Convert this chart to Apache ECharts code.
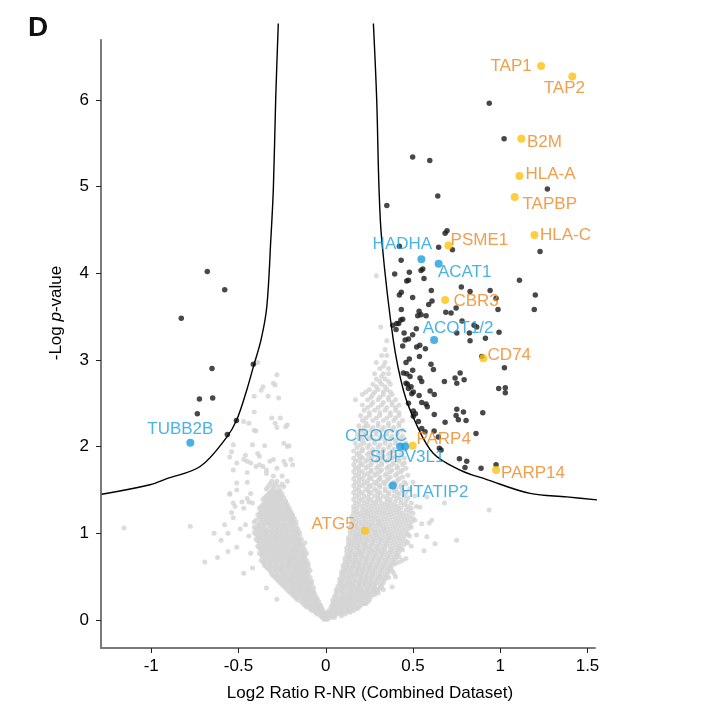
<!DOCTYPE html>
<html>
<head>
<meta charset="utf-8">
<script src="https://cdn.jsdelivr.net/npm/echarts@6/dist/echarts.min.js"></script>
<style>html,body{margin:0;padding:0;background:#fff}#c{width:702px;height:727px}</style>
</head>
<body>
<div id="c"></div>
<script>
// ---------------- DATA ----------------
const xTicks = [-1, -0.5, 0, 0.5, 1, 1.5];
const yTicks = [0, 1, 2, 3, 4, 5, 6];

// threshold curve
const curveLeftX  = [-1.284, -1.007, -0.911, -0.720, -0.567, -0.510, -0.453, -0.415, -0.371, -0.338, -0.315, -0.300, -0.287, -0.272];
const curveLeftY  = [1.45, 1.56, 1.63, 1.77, 2.11, 2.31, 2.65, 2.92, 3.23, 3.61, 4.38, 4.99, 6.00, 6.88];
const curveRightX = [0.273, 0.292, 0.305, 0.321, 0.387, 0.445, 0.512, 0.617, 0.770, 0.923, 1.171, 1.381, 1.582];
const curveRightY = [6.88, 6.00, 4.99, 4.38, 3.23, 2.65, 2.29, 1.92, 1.73, 1.62, 1.46, 1.42, 1.38];

// non-significant proteins, left arm, rows: [y, [x...]]
const greyLeftRows = [
 [0.01,[-0.01,0.00,0.01]],
 [0.03,[-0.02,0.00]],
 [0.05,[-0.03,-0.02,0.00,0.02]],
 [0.07,[-0.05,-0.03,-0.01]],
 [0.09,[-0.06,-0.04,-0.02,-0.01,0.01]],
 [0.11,[-0.08,-0.06,-0.04,-0.02]],
 [0.13,[-0.09,-0.07,-0.05,-0.03,-0.02]],
 [0.15,[-0.11,-0.09,-0.07,-0.05,-0.03]],
 [0.17,[-0.12,-0.10,-0.08,-0.06,-0.04,-0.03]],
 [0.19,[-0.13,-0.11,-0.09,-0.07,-0.05]],
 [0.21,[-0.14,-0.12,-0.10,-0.08,-0.06,-0.04]],
 [0.23,[-0.16,-0.13,-0.11,-0.09,-0.07,-0.05]],
 [0.25,[-0.17,-0.15,-0.12,-0.10,-0.08,-0.06,-0.05]],
 [0.27,[-0.18,-0.16,-0.13,-0.11,-0.09,-0.07]],
 [0.29,[-0.19,-0.17,-0.14,-0.12,-0.10,-0.08,-0.06]],
 [0.31,[-0.20,-0.18,-0.15,-0.13,-0.11,-0.09,-0.07]],
 [0.33,[-0.21,-0.18,-0.16,-0.14,-0.11,-0.09,-0.07]],
 [0.35,[-0.22,-0.19,-0.17,-0.15,-0.12,-0.10,-0.08]],
 [0.37,[-0.23,-0.20,-0.18,-0.15,-0.13,-0.11,-0.09,-0.07]],
 [0.39,[-0.24,-0.21,-0.19,-0.16,-0.14,-0.12,-0.10]],
 [0.41,[-0.25,-0.22,-0.19,-0.17,-0.15,-0.12,-0.10,-0.08]],
 [0.43,[-0.26,-0.23,-0.20,-0.18,-0.16,-0.13,-0.11,-0.09]],
 [0.45,[-0.27,-0.24,-0.21,-0.19,-0.16,-0.14,-0.12,-0.10,-0.08]],
 [0.47,[-0.28,-0.25,-0.22,-0.20,-0.17,-0.15,-0.13,-0.11]],
 [0.49,[-0.29,-0.26,-0.23,-0.20,-0.18,-0.15,-0.13,-0.11,-0.09]],
 [0.51,[-0.30,-0.27,-0.24,-0.21,-0.19,-0.16,-0.14,-0.12]],
 [0.53,[-0.31,-0.28,-0.25,-0.22,-0.19,-0.17,-0.15,-0.12,-0.10]],
 [0.55,[-0.31,-0.28,-0.25,-0.23,-0.20,-0.18,-0.16,-0.13,-0.11]],
 [0.57,[-0.32,-0.29,-0.26,-0.24,-0.21,-0.18,-0.16,-0.14,-0.11,-0.09]],
 [0.59,[-0.33,-0.30,-0.27,-0.25,-0.22,-0.19,-0.17,-0.15,-0.12]],
 [0.61,[-0.34,-0.31,-0.28,-0.25,-0.22,-0.20,-0.17,-0.15,-0.13,-0.10]],
 [0.63,[-0.35,-0.32,-0.29,-0.26,-0.23,-0.21,-0.18,-0.16,-0.14,-0.11]],
 [0.65,[-0.35,-0.32,-0.29,-0.26,-0.24,-0.21,-0.19,-0.16,-0.14,-0.12,-0.10]],
 [0.67,[-0.36,-0.33,-0.30,-0.27,-0.25,-0.22,-0.20,-0.17,-0.15,-0.12]],
 [0.69,[-0.37,-0.34,-0.31,-0.28,-0.25,-0.22,-0.20,-0.18,-0.15,-0.13,-0.11]],
 [0.71,[-0.35,-0.32,-0.29,-0.26,-0.23,-0.21,-0.18,-0.16,-0.13]],
 [0.73,[-0.36,-0.33,-0.30,-0.27,-0.24,-0.21,-0.19,-0.17,-0.14,-0.12]],
 [0.75,[-0.37,-0.34,-0.31,-0.28,-0.25,-0.22,-0.19,-0.17,-0.14,-0.12]],
 [0.77,[-0.38,-0.35,-0.32,-0.29,-0.26,-0.23,-0.20,-0.18,-0.15,-0.13,-0.11]],
 [0.79,[-0.36,-0.33,-0.30,-0.27,-0.24,-0.21,-0.19,-0.16,-0.13]],
 [0.81,[-0.37,-0.34,-0.31,-0.28,-0.25,-0.22,-0.19,-0.17,-0.14,-0.12]],
 [0.83,[-0.38,-0.35,-0.32,-0.29,-0.26,-0.23,-0.20,-0.17,-0.15]],
 [0.85,[-0.39,-0.36,-0.33,-0.30,-0.27,-0.24,-0.21,-0.18,-0.16,-0.13]],
 [0.87,[-0.37,-0.34,-0.31,-0.28,-0.25,-0.22,-0.19,-0.16,-0.14]],
 [0.89,[-0.38,-0.35,-0.32,-0.29,-0.26,-0.23,-0.20,-0.17,-0.15,-0.12]],
 [0.91,[-0.39,-0.36,-0.33,-0.30,-0.27,-0.24,-0.21,-0.18,-0.15]],
 [0.93,[-0.40,-0.37,-0.34,-0.31,-0.28,-0.25,-0.22,-0.19,-0.16,-0.14]],
 [0.95,[-0.38,-0.35,-0.32,-0.29,-0.26,-0.23,-0.20,-0.17]],
 [0.97,[-0.39,-0.36,-0.33,-0.30,-0.27,-0.24,-0.21,-0.18,-0.15]],
 [0.99,[-0.40,-0.37,-0.34,-0.31,-0.28,-0.25,-0.22,-0.19,-0.16]],
 [1.01,[-0.41,-0.38,-0.35,-0.32,-0.29,-0.26,-0.23,-0.20,-0.17,-0.15]],
 [1.03,[-0.39,-0.36,-0.34,-0.31,-0.28,-0.25,-0.22,-0.19,-0.17]],
 [1.05,[-0.40,-0.37,-0.33,-0.30,-0.27,-0.24,-0.21,-0.18,-0.16]],
 [1.07,[-0.41,-0.38,-0.35,-0.31,-0.28,-0.25,-0.22,-0.19]],
 [1.09,[-0.39,-0.36,-0.32,-0.29,-0.26,-0.23,-0.20,-0.17]],
 [1.11,[-0.38,-0.35,-0.33,-0.30,-0.27,-0.24,-0.21,-0.18]],
 [1.13,[-0.41,-0.37,-0.34,-0.31,-0.28,-0.25,-0.22,-0.19,-0.17]],
 [1.15,[-0.40,-0.36,-0.33,-0.30,-0.27,-0.24,-0.21,-0.19]],
 [1.17,[-0.38,-0.35,-0.32,-0.29,-0.26,-0.23,-0.20,-0.18]],
 [1.19,[-0.37,-0.34,-0.31,-0.28,-0.25,-0.22,-0.19]],
 [1.21,[-0.39,-0.36,-0.33,-0.30,-0.27,-0.24,-0.21,-0.19]],
 [1.23,[-0.38,-0.35,-0.32,-0.29,-0.26,-0.23,-0.20]],
 [1.25,[-0.37,-0.34,-0.31,-0.28,-0.25,-0.22,-0.20]],
 [1.27,[-0.36,-0.33,-0.30,-0.27,-0.24,-0.21]],
 [1.29,[-0.38,-0.35,-0.32,-0.29,-0.26,-0.23,-0.21]],
 [1.31,[-0.37,-0.34,-0.31,-0.28,-0.25,-0.22]],
 [1.33,[-0.36,-0.33,-0.30,-0.27,-0.24,-0.22]],
 [1.35,[-0.35,-0.32,-0.29,-0.26,-0.23]],
 [1.37,[-0.34,-0.31,-0.28,-0.25,-0.23]],
 [1.39,[-0.36,-0.33,-0.30,-0.27]],
 [1.41,[-0.35,-0.32,-0.29,-0.26,-0.24]],
 [1.43,[-0.34,-0.31,-0.28,-0.26]],
 [1.45,[-0.33,-0.30,-0.27,-0.25]],
 [1.47,[-0.32,-0.29,-0.27]],
 [1.49,[-0.31,-0.28,-0.26]],
 [1.51,[-0.34,-0.30]],
 [1.54,[-0.33,-0.30,-0.27,-0.24]],
 [1.57,[-0.32,-0.29,-0.25]],
 [1.60,[-0.31,-0.28,-0.22]],
 [1.66,[-0.30,-0.25]]
];

// non-significant proteins, right arm, rows: [y, [x...]]
const greyRightRows = [
 [0.03,[0.01,0.03,0.05]],
 [0.05,[0.02,0.05,0.09]],
 [0.07,[0.02,0.04,0.06,0.08,0.11]],
 [0.09,[0.03,0.06,0.09,0.12,0.14]],
 [0.11,[0.02,0.05,0.07,0.10,0.13,0.16]],
 [0.13,[0.04,0.06,0.09,0.12,0.15,0.18]],
 [0.15,[0.03,0.05,0.08,0.11,0.14,0.17,0.19]],
 [0.17,[0.04,0.07,0.10,0.13,0.16,0.20]],
 [0.19,[0.04,0.06,0.09,0.12,0.15,0.18,0.21,0.23]],
 [0.21,[0.05,0.08,0.11,0.14,0.17,0.20,0.24]],
 [0.23,[0.04,0.07,0.10,0.13,0.16,0.19,0.22,0.25]],
 [0.25,[0.06,0.09,0.12,0.15,0.18,0.21,0.24]],
 [0.27,[0.05,0.08,0.11,0.14,0.17,0.20,0.23,0.26]],
 [0.29,[0.06,0.10,0.13,0.16,0.19,0.22,0.25,0.28]],
 [0.31,[0.06,0.09,0.12,0.15,0.18,0.21,0.24,0.27,0.30]],
 [0.33,[0.07,0.10,0.14,0.17,0.20,0.23,0.26,0.29]],
 [0.35,[0.06,0.09,0.12,0.15,0.18,0.21,0.24,0.27,0.30]],
 [0.37,[0.08,0.11,0.14,0.17,0.20,0.24,0.27,0.31]],
 [0.39,[0.07,0.10,0.13,0.16,0.19,0.22,0.25,0.28,0.32]],
 [0.41,[0.09,0.12,0.15,0.19,0.22,0.25,0.28,0.31]],
 [0.43,[0.08,0.11,0.14,0.17,0.20,0.23,0.26,0.29,0.33]],
 [0.45,[0.09,0.13,0.16,0.19,0.22,0.25,0.28,0.32]],
 [0.47,[0.08,0.11,0.14,0.17,0.20,0.23,0.26,0.30,0.34]],
 [0.49,[0.10,0.13,0.16,0.20,0.23,0.26,0.29,0.33,0.36]],
 [0.51,[0.09,0.12,0.15,0.18,0.21,0.24,0.27,0.31,0.35]],
 [0.53,[0.10,0.14,0.17,0.20,0.23,0.27,0.30,0.34]],
 [0.55,[0.09,0.12,0.15,0.18,0.21,0.25,0.28,0.32,0.36]],
 [0.57,[0.11,0.14,0.18,0.21,0.24,0.27,0.31,0.35,0.38]],
 [0.59,[0.10,0.13,0.16,0.19,0.22,0.25,0.29,0.33,0.37]],
 [0.61,[0.12,0.15,0.18,0.21,0.25,0.28,0.32,0.36]],
 [0.63,[0.10,0.13,0.16,0.19,0.23,0.26,0.30,0.34,0.38]],
 [0.65,[0.12,0.16,0.19,0.22,0.25,0.29,0.33,0.37,0.40]],
 [0.67,[0.11,0.14,0.17,0.20,0.23,0.27,0.31,0.35,0.39]],
 [0.69,[0.13,0.16,0.19,0.23,0.26,0.30,0.34,0.38]],
 [0.71,[0.11,0.14,0.17,0.21,0.24,0.28,0.32,0.36,0.40]],
 [0.73,[0.13,0.17,0.20,0.23,0.27,0.31,0.35,0.39,0.42]],
 [0.75,[0.12,0.15,0.18,0.21,0.25,0.29,0.33,0.37,0.41]],
 [0.77,[0.14,0.17,0.20,0.24,0.28,0.32,0.36,0.40]],
 [0.79,[0.12,0.15,0.19,0.22,0.26,0.30,0.34,0.38,0.42]],
 [0.81,[0.14,0.18,0.21,0.25,0.28,0.32,0.37,0.41,0.44]],
 [0.83,[0.12,0.16,0.19,0.23,0.26,0.30,0.34,0.39,0.43]],
 [0.85,[0.14,0.18,0.22,0.25,0.29,0.33,0.37,0.42]],
 [0.87,[0.13,0.16,0.20,0.23,0.27,0.31,0.35,0.40,0.45]],
 [0.89,[0.15,0.18,0.22,0.26,0.30,0.34,0.38,0.43,0.47]],
 [0.91,[0.13,0.17,0.20,0.24,0.28,0.32,0.36,0.41,0.46]],
 [0.93,[0.15,0.19,0.23,0.27,0.31,0.35,0.39,0.44]],
 [0.95,[0.13,0.17,0.21,0.25,0.29,0.33,0.37,0.42]],
 [0.97,[0.16,0.19,0.23,0.27,0.31,0.36,0.40,0.45,0.48]],
 [0.99,[0.14,0.18,0.21,0.25,0.29,0.34,0.38,0.43,0.47]],
 [1.01,[0.16,0.20,0.24,0.28,0.32,0.36,0.41,0.46]],
 [1.03,[0.14,0.18,0.22,0.26,0.30,0.34,0.39,0.44]],
 [1.05,[0.16,0.20,0.24,0.28,0.33,0.37,0.42,0.47]],
 [1.07,[0.14,0.18,0.22,0.26,0.31,0.35,0.40,0.45,0.49]],
 [1.09,[0.17,0.21,0.25,0.29,0.33,0.38,0.43,0.48]],
 [1.11,[0.15,0.19,0.23,0.27,0.31,0.36,0.41,0.46]],
 [1.13,[0.17,0.21,0.25,0.30,0.34,0.39,0.44,0.49]],
 [1.15,[0.15,0.19,0.23,0.28,0.32,0.37,0.42,0.47,0.51]],
 [1.17,[0.17,0.22,0.26,0.30,0.35,0.40,0.45,0.50]],
 [1.19,[0.15,0.20,0.24,0.28,0.33,0.38,0.43,0.48]],
 [1.21,[0.18,0.22,0.26,0.31,0.36,0.41,0.46]],
 [1.23,[0.16,0.20,0.24,0.29,0.34,0.39,0.44,0.50]],
 [1.25,[0.18,0.23,0.27,0.32,0.37,0.42,0.48]],
 [1.27,[0.16,0.21,0.25,0.30,0.35,0.40,0.46]],
 [1.29,[0.18,0.23,0.28,0.33,0.38,0.43,0.49]],
 [1.31,[0.16,0.21,0.26,0.31,0.36,0.41,0.47,0.52]],
 [1.33,[0.19,0.24,0.29,0.34,0.39,0.45]],
 [1.35,[0.17,0.22,0.27,0.32,0.37,0.43,0.49]],
 [1.37,[0.19,0.24,0.29,0.35,0.40,0.46]],
 [1.39,[0.16,0.21,0.26,0.31,0.37,0.43]],
 [1.41,[0.19,0.24,0.30,0.35,0.41,0.47]],
 [1.43,[0.17,0.22,0.28,0.33,0.39,0.45,0.51]],
 [1.45,[0.19,0.25,0.30,0.36,0.42]],
 [1.47,[0.16,0.21,0.26,0.31,0.36,0.41,0.46]],
 [1.49,[0.19,0.24,0.29,0.34,0.39,0.44]],
 [1.51,[0.17,0.23,0.28,0.34,0.40,0.48]],
 [1.53,[0.19,0.25,0.31,0.37,0.43]],
 [1.55,[0.16,0.21,0.26,0.31,0.37,0.43]],
 [1.57,[0.19,0.24,0.29,0.34,0.40,0.46]],
 [1.59,[0.17,0.22,0.28,0.33,0.39,0.45,0.50]],
 [1.61,[0.19,0.24,0.30,0.35,0.41]],
 [1.63,[0.16,0.21,0.26,0.31,0.36,0.42]],
 [1.65,[0.19,0.25,0.31,0.37,0.44]],
 [1.67,[0.17,0.22,0.28,0.34,0.40,0.47]],
 [1.69,[0.19,0.24,0.29,0.35,0.41]],
 [1.71,[0.16,0.21,0.26,0.31,0.37,0.43]],
 [1.73,[0.19,0.26,0.32,0.38,0.44]],
 [1.75,[0.17,0.23,0.29,0.35,0.41,0.46]],
 [1.77,[0.19,0.24,0.30,0.36,0.41]],
 [1.79,[0.16,0.21,0.26,0.32,0.38,0.44]],
 [1.81,[0.20,0.26,0.32,0.39,0.45]],
 [1.83,[0.17,0.23,0.29,0.35,0.42]],
 [1.85,[0.19,0.24,0.30,0.36,0.42]],
 [1.87,[0.16,0.21,0.26,0.32,0.38,0.45]],
 [1.89,[0.20,0.27,0.33,0.40]],
 [1.91,[0.18,0.24,0.30,0.36,0.43]],
 [1.93,[0.19,0.25,0.31,0.37]],
 [1.95,[0.16,0.21,0.27,0.33,0.39]],
 [1.97,[0.21,0.27,0.33,0.39,0.45]],
 [1.99,[0.18,0.24,0.30,0.36]],
 [2.02,[0.20,0.25,0.31,0.37,0.43]],
 [2.04,[0.17,0.22,0.28,0.34,0.40,0.46]],
 [2.07,[0.21,0.28,0.34,0.40]],
 [2.09,[0.19,0.25,0.31,0.37,0.43]],
 [2.12,[0.21,0.26,0.32,0.38,0.44]],
 [2.14,[0.18,0.23,0.29,0.35,0.41]],
 [2.17,[0.22,0.29,0.35,0.41]],
 [2.19,[0.20,0.26,0.32,0.38,0.44]],
 [2.22,[0.22,0.27,0.33,0.39]],
 [2.24,[0.19,0.24,0.30,0.36,0.42]],
 [2.27,[0.23,0.30,0.36,0.42]],
 [2.30,[0.21,0.27,0.33,0.39,0.44]],
 [2.33,[0.23,0.29,0.35,0.40]],
 [2.36,[0.20,0.25,0.31,0.37,0.42]],
 [2.39,[0.25,0.31,0.37,0.42]],
 [2.42,[0.22,0.28,0.34,0.40]],
 [2.45,[0.24,0.30,0.35,0.40]],
 [2.48,[0.21,0.26,0.32,0.38,0.42]],
 [2.51,[0.27,0.33,0.38]],
 [2.54,[0.17,0.24,0.30,0.36,0.40]],
 [2.57,[0.26,0.31,0.36]],
 [2.60,[0.21,0.27,0.33,0.38]],
 [2.63,[0.23,0.28,0.33,0.37]],
 [2.66,[0.25,0.30,0.35]],
 [2.69,[0.29,0.34]],
 [2.72,[0.27,0.32,0.37]],
 [2.75,[0.31,0.36]],
 [2.78,[0.29,0.34]],
 [2.81,[0.32]],
 [2.84,[0.28,0.33,0.36]],
 [2.90,[0.31,0.36]],
 [2.93,[0.33]],
 [2.97,[0.29,0.34]],
 [3.05,[0.32,0.35]],
 [3.12,[0.34]],
 [3.22,[0.35]],
 [3.38,[0.315]],
 [3.97,[0.29]]
];

// scattered non-significant proteins
const greyScatterLeft = [
 [-1.156,1.06],[-0.776,1.08],[-0.693,0.67],[-0.62,0.72],[-0.64,1.00],[-0.60,0.92],[-0.56,1.00],[-0.56,0.79],
 [-0.51,0.84],[-0.47,0.54],[-0.54,1.24],[-0.52,1.31],[-0.47,1.29],[-0.45,1.40],[-0.55,1.45],[-0.51,1.50],
 [-0.44,1.36],[-0.44,0.97],[-0.43,0.77],[-0.42,0.60],[-0.34,0.37],[-0.28,0.24],[-0.46,1.10],[-0.49,1.05],
 [-0.58,1.10],[-0.53,1.18],
 [-0.39,2.97],[-0.28,2.83],[-0.30,2.73],[-0.29,2.71],[-0.36,2.69],[-0.37,2.65],[-0.41,2.58],[-0.33,2.58],
 [-0.27,2.56],[-0.41,2.40],[-0.31,2.33],[-0.26,2.33],[-0.29,2.27],[-0.28,2.22],[-0.23,2.23],[-0.22,2.25],
 [-0.47,2.29],[-0.44,2.27],[-0.41,2.19],[-0.40,2.18],[-0.53,2.02],[-0.54,1.94],[-0.55,1.88],[-0.42,2.02],
 [-0.35,2.01],[-0.24,2.04],[-0.22,2.00],[-0.21,2.01],[-0.32,1.83],[-0.30,1.85],[-0.46,1.90],[-0.47,1.85],
 [-0.51,1.81],[-0.43,1.81],[-0.40,1.77],[-0.39,1.92],[-0.38,1.89],[-0.24,1.83],[-0.23,1.79],[-0.19,1.79],
 [-0.20,1.85],[-0.36,1.77],[-0.28,1.75],[-0.34,1.69],[-0.45,1.83],[-0.38,1.79],[-0.34,1.73],[-0.53,1.73],
 [-0.51,1.58],[-0.45,1.70],[-0.45,1.59],[-0.55,1.46],[-0.53,1.35],[-0.48,1.36],[-0.43,1.46],[-0.42,1.35]
];
const greyScatterRight = [
 [0.936,1.27],[0.75,0.92],[0.626,0.88],[0.563,0.80],[0.593,1.12],[0.68,1.35],[0.55,1.11],[0.52,0.98],
 [0.49,0.85],[0.44,0.69],[0.39,0.54],[0.38,0.38],[0.29,0.35],[0.225,0.19],[0.46,0.71],[0.42,0.67],
 [0.40,0.50],[0.33,0.35],[0.31,0.50],[0.607,1.15],[0.579,0.96],[0.54,1.30],[0.58,1.42]
];

// significant proteins (black)
const sigPoints = [
 [0.937,5.96],[1.022,5.55],[0.498,5.34],[0.596,5.30],[1.270,4.97],[0.642,4.89],[0.350,4.78],[0.695,4.49],[0.684,4.46],
 [1.228,4.25],[1.110,3.92],[0.942,3.80],[0.827,3.79],[1.201,3.75],[0.976,3.71],[0.987,3.58],[1.195,3.58],[0.850,3.40],
 [0.865,3.38],[0.993,3.32],[0.827,3.22],[0.915,3.25],
 [0.894,3.04],[1.024,2.91],[0.991,2.67],[1.029,2.68],[1.029,2.62],[0.900,2.39],[0.861,2.15],[0.890,1.75],[0.976,1.79],
 [0.422,4.31],[0.647,4.30],[0.726,4.27],[0.432,4.15],[0.556,4.05],[0.546,4.03],[0.395,3.99],[0.479,4.01],[0.474,3.92],
 [0.563,3.94],[0.777,3.84],[0.433,3.78],[0.422,3.75],[0.498,3.72],[0.605,3.80],[0.609,3.68],[0.590,3.64],[0.433,3.58],
 [0.535,3.56],[0.527,3.51],[0.546,3.52],[0.575,3.51],[0.688,3.55],[0.718,3.54],[0.747,3.60],[0.441,3.47],[0.418,3.42],
 [0.384,3.40],[0.403,3.35],[0.519,3.36],[0.781,3.45],[0.751,3.31],[0.449,3.31],[0.474,3.24],[0.455,3.23],[0.441,3.16],
 [0.498,3.29],[0.539,3.17],[0.521,3.15],[0.571,3.13],[0.537,3.04],[0.479,3.01],[0.460,2.97],[0.603,2.95],[0.617,2.89],
 [0.498,2.88],[0.464,2.84],[0.483,2.81],[0.540,2.79],[0.550,2.75],[0.770,2.85],[0.793,2.77],[0.741,2.79],[0.751,2.73],
 [0.680,2.75],[0.468,2.72],[0.489,2.69],[0.474,2.67],[0.502,2.63],[0.493,2.61],[0.598,2.64],[0.622,2.60],[0.535,2.59],
 [0.474,2.50],[0.550,2.51],[0.575,2.49],[0.582,2.46],[0.751,2.43],[0.789,2.40],[0.747,2.36],[0.760,2.31],[0.804,2.30],
 [0.502,2.41],[0.514,2.38],[0.502,2.35],[0.622,2.37],[0.684,2.28],[0.621,2.18],[0.645,2.11],[0.651,1.98],[0.661,1.96],
 [0.766,1.86],[0.808,1.83],[0.798,1.76],[0.445,2.85],[0.460,2.73],[0.531,2.29],[0.550,2.21],[0.569,2.17],[0.464,3.91],
 [0.407,3.42],[0.430,3.46],[0.823,3.31],
 [-0.679,4.02],[-0.579,3.81],[-0.828,3.48],[-0.652,2.90],[-0.415,2.95],[-0.724,2.55],[-0.648,2.56],[-0.736,2.38],
 [-0.512,2.30],[-0.564,2.14]
];

// highlighted proteins
const labelNames = ['TAP1','TAP2','B2M','HLA-A','TAPBP','HLA-C','PSME1','CBR3','CD74','PARP4','PARP14','ATG5',
                    'HADHA','ACAT1','ACOT1/2','CROCC','SUPV3L1','HTATIP2','TUBB2B'];
const labelX = [1.234,1.413,1.121,1.110,1.083,1.196,0.703,0.684,0.903,0.498,0.976,0.225,
                0.548,0.647,0.621,0.426,0.455,0.384,-0.776];
const labelY = [6.39,6.27,5.55,5.12,4.88,4.44,4.32,3.69,3.02,2.01,1.73,1.03,
                4.16,4.11,3.23,2.00,2.00,1.55,2.045];
const labelGroup = ['o','o','o','o','o','o','o','o','o','o','o','o','b','b','b','b','b','b','b'];

// ---------------- STYLE / LAYOUT ----------------
const FONT = '"Liberation Sans", Arial, Helvetica, sans-serif';
const ORANGE_DOT = '#FFC20E', ORANGE_TXT = '#EE8620', BLUE = '#1E9FDF';
const labelOffset = {
  'TAP1':[-30,0],'TAP2':[-8,12],'B2M':[23,3],'HLA-A':[31,-2],'TAPBP':[35,7],'HLA-C':[31,0],
  'PSME1':[31,-5],'CBR3':[31,1],'CD74':[26,-3],'PARP4':[31,-6],'PARP14':[37,3],'ATG5':[-32,-6],
  'HADHA':[-19,-15],'ACAT1':[26,9],'ACOT1/2':[24,-12],'CROCC':[-24,-10],'SUPV3L1':[2,11],
  'HTATIP2':[42,7],'TUBB2B':[-10,-13]
};

const rowsToPts = rows => rows.flatMap(([y, xs]) => xs.map(x => [x, y]));
const greyPts = rowsToPts(greyLeftRows).concat(rowsToPts(greyRightRows), greyScatterLeft, greyScatterRight);
const zip = (xs, ys) => xs.map((x, i) => [x, ys[i]]);

function labeled(group) {
  const out = [];
  labelNames.forEach((n, i) => {
    if (labelGroup[i] !== group) return;
    out.push({ name: n, value: [labelX[i], labelY[i]], label: { offset: labelOffset[n] } });
  });
  return out;
}

const axisCommon = {
  type: 'value',
  splitLine: { show: false },
  axisLine: { show: true, onZero: false, lineStyle: { color: '#7a7a7a', width: 2 } },
  axisTick: { show: true, length: 5, lineStyle: { color: '#222', width: 1 } },
  axisLabel: { color: '#000', fontSize: 17, fontFamily: FONT }
};

const chart = echarts.init(document.getElementById('c'), null, { renderer: 'canvas' });
chart.setOption({
  animation: false,
  backgroundColor: '#fff',
  grid: { left: 101, right: 107, top: 40, bottom: 79, containLabel: false },
  xAxis: Object.assign({}, axisCommon, {
    min: -1.288, max: 1.543,
    axisTick: Object.assign({}, axisCommon.axisTick, { customValues: xTicks }),
    axisLabel: Object.assign({}, axisCommon.axisLabel, { customValues: xTicks, margin: 10, formatter: v => String(v) })
  }),
  yAxis: Object.assign({}, axisCommon, {
    min: -0.323, max: 6.69,
    axisTick: Object.assign({}, axisCommon.axisTick, { customValues: yTicks }),
    axisLabel: Object.assign({}, axisCommon.axisLabel, { customValues: yTicks, margin: 12, formatter: v => String(v) })
  }),
  graphic: [
    { type: 'text', left: 28, top: 14, style: { text: 'D', font: 'bold 28px ' + FONT, fill: '#111' } },
    { type: 'text', x: 56, y: 313, rotation: Math.PI / 2,
      style: { text: '{a|-Log }{b|p}{a|-value}', align: 'center', verticalAlign: 'middle',
        rich: { a: { fontSize: 17, fontFamily: FONT, fill: '#000' }, b: { fontSize: 17, fontFamily: FONT, fontStyle: 'italic', fill: '#000' } } } },
    { type: 'text', x: 370, y: 693,
      style: { text: 'Log2 Ratio R-NR (Combined Dataset)', align: 'center', verticalAlign: 'middle', font: '17px ' + FONT, fill: '#000' } }
  ],
  series: [
    { type: 'scatter', data: greyPts, symbolSize: 5, itemStyle: { color: '#d3d3d3' }, silent: true, z: 1 },
    { type: 'scatter', data: sigPoints, symbolSize: 5.5, itemStyle: { color: '#1a1a1a' }, silent: true, z: 2 },
    { type: 'line', data: zip(curveLeftX, curveLeftY), smooth: 0.35, showSymbol: false, clip: false,
      lineStyle: { color: '#000', width: 1.4 }, silent: true, z: 3 },
    { type: 'line', data: zip(curveRightX, curveRightY), smooth: 0.35, showSymbol: false, clip: false,
      lineStyle: { color: '#000', width: 1.4 }, silent: true, z: 3 },
    { type: 'scatter', data: labeled('o'), symbolSize: 8, itemStyle: { color: ORANGE_DOT }, z: 4,
      label: { show: true, position: 'inside', formatter: '{b}', color: ORANGE_TXT, fontSize: 17, fontFamily: FONT } },
    { type: 'scatter', data: labeled('b'), symbolSize: 8, itemStyle: { color: BLUE }, z: 4,
      label: { show: true, position: 'inside', formatter: '{b}', color: BLUE, fontSize: 17, fontFamily: FONT } }
  ]
});
</script>
</body>
</html>
